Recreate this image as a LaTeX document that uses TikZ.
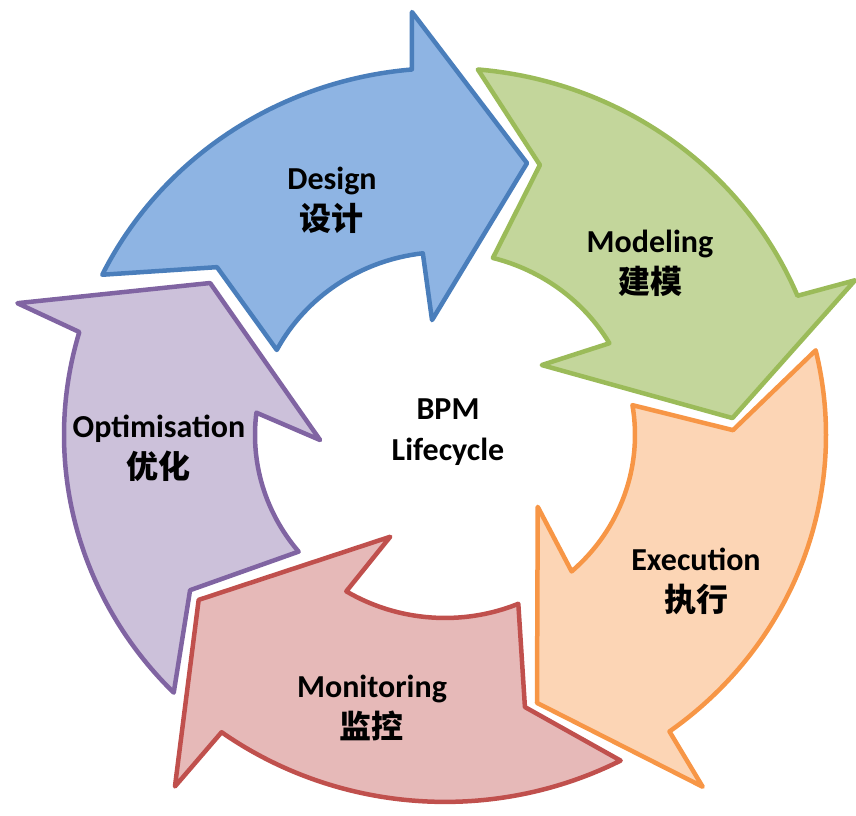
\documentclass[tikz,border=0pt]{standalone}
\usepackage{fontspec}
\setmainfont{Carlito}
\newfontfamily\cjk{Noto Sans CJK SC}
\definecolor{bVien}{HTML}{4A7EBB}
\definecolor{bNen}{HTML}{8EB4E3}
\definecolor{gVien}{HTML}{9BBB59}
\definecolor{gNen}{HTML}{C3D69B}
\definecolor{oVien}{HTML}{F79646}
\definecolor{oNen}{HTML}{FCD5B5}
\definecolor{rVien}{HTML}{C0504D}
\definecolor{rNen}{HTML}{E6B9B8}
\definecolor{pVien}{HTML}{8064A2}
\definecolor{pNen}{HTML}{CCC1DA}
\begin{document}
\begin{tikzpicture}[x=1pt,y=0.963pt,
	mt/.style 2 args={draw=#1,fill=#2,line width=4.5pt,line join=round},
	lab/.style={align=center,inner sep=0pt,font=\fontsize{32}{41}\selectfont\bfseries}]
			\def\ro{381}
			\def\ri{190}
			\useasboundingbox (-445pt,-380pt) rectangle (411pt,435pt);
			\draw[mt={bVien}{bNen}] (154.1:\ro) arc[start angle=154.1,end angle=95,radius=\ro] -- (94.3:440.5) -- (73.8:294) -- (96.2:120) -- (96.7:\ri) arc[start angle=96.7,end angle=152.3,radius=\ri] -- (142.6:287) -- cycle; % Mũi tên Design
			\draw[mt={gVien}{gNen}] (85.05:\ro) arc[start angle=85.05,end angle=22.3,radius=\ro] -- (21.4:440.5) -- (3.5:288) -- (36.9:121) -- (30.1:\ri) arc[start angle=30.1,end angle=75.4,radius=\ri] -- (71.3:296) -- cycle; % Mũi tên Modeling
			\draw[mt={oVien}{oNen}] (13.35:\ro) arc[start angle=13.35,end angle=-53.9,radius=\ro] -- (-54.8:447) -- (-71.7:293) -- (-38.8:119) -- (-48.2:\ri) arc[start angle=-48.2,end angle=9.4,radius=\ri] -- (1:288) -- cycle; % Mũi tên Execution
			\draw[mt={rVien}{rNen}] (-62.55:\ro) arc[start angle=-62.55,end angle=-125.9,radius=\ro] -- (-126.5:454) -- (-145.2:300) -- (-117.4:119) -- (-121.3:\ri) arc[start angle=-121.3,end angle=-67.3,radius=\ri] -- (-74.2:293.6) -- cycle; % Mũi tên Monitoring
			\draw[mt={pVien}{pNen}] (224.6:\ro) arc[start angle=224.6,end angle=163.7,radius=\ro] -- (162.25:449) -- (146.1:283) -- (182.4:125) -- (173:\ri) arc[start angle=173,end angle=219.6,radius=\ri] -- (212.3:301.6) -- cycle; % Mũi tên Optimisation
			\node[lab] (design) at (-113pt,235pt) {Design\\{\cjk 设计}};
			\node[lab] (modeling) at (205pt,171.5pt) {Modeling\\{\cjk 建模}};
			\node[lab] (execution) at (251pt,-146.5pt) {Execution\\{\cjk 执行}};
			\node[lab] (monitoring) at (-73pt,-272.5pt) {Monitoring\\{\cjk 监控}};
			\node[lab] (optimisation) at (-286pt,-13pt) {Optimisation\\{\cjk 优化}};
			\node[lab] (bpm) at (3pt,3pt) {BPM\\Lifecycle};
		\end{tikzpicture}
\end{document}
